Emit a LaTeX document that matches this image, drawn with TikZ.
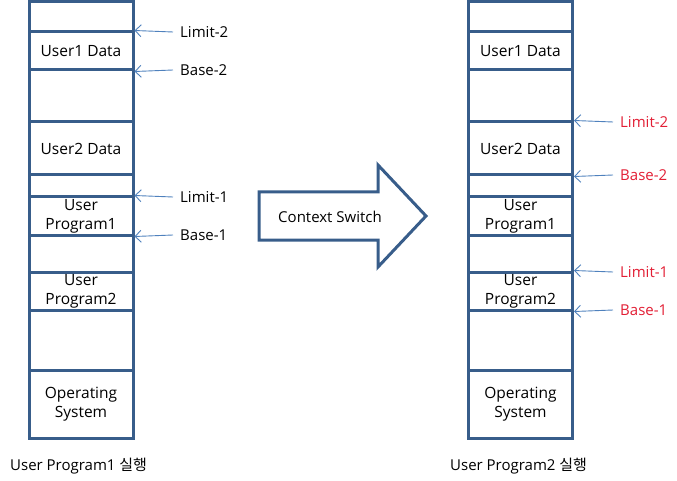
\documentclass[tikz,border=0pt]{standalone}
\usepackage{fontspec}
\setmainfont{Open Sans}
\newfontfamily\kor{Noto Sans CJK KR}
\usepackage{tikz}
\usetikzlibrary{arrows.meta}
\definecolor{boxblue}{RGB}{56,93,138}
\definecolor{ptrblue}{RGB}{79,129,189}
\definecolor{labred}{RGB}{226,30,52}
\begin{document}
\begin{tikzpicture}
	[x=1pt, y=-1pt,
	 seg/.style={draw=boxblue, line width=3pt, rectangle, inner sep=0pt,
	   minimum width=104pt, align=center, font=\fontsize{15.5}{19}\selectfont},
	 ptr/.style={draw=ptrblue, line width=0.9pt, -{Straight Barb[length=6pt,width=12pt]}},
	 reg/.style={anchor=west, inner sep=0pt, font=\fontsize{15}{17}\selectfont},
	 caption/.style={anchor=west, inner sep=0pt, font=\fontsize{15}{17}\selectfont}]
	\useasboundingbox (0,0) rectangle (677,481);
	% running user program 1
	\node[seg, minimum height=30pt] (a0) at (81, 17) {};
	\node[seg, minimum height=38pt] (a1) at (81, 51) {User1 Data};
	\node[seg, minimum height=52pt] (a2) at (81, 96) {};
	\node[seg, minimum height=53pt] (a3) at (81, 148.5) {User2 Data};
	\node[seg, minimum height=22pt] (a4) at (81, 186) {};
	\node[seg, minimum height=38pt] (a5) at (81, 216) {User\\Program1};
	\node[seg, minimum height=37pt] (a6) at (81, 253.5) {};
	\node[seg, minimum height=38pt] (a7) at (81, 291) {User\\Program2};
	\node[seg, minimum height=60pt] (a8) at (81, 340) {};
	\node[seg, minimum height=68pt] (a9) at (81, 404) {Operating\\System};
	\node[reg] (al2) at (180, 32) {Limit-2};
	\node[reg] (ab2) at (180, 70) {Base-2};
	\node[reg] (al1) at (180, 197) {Limit-1};
	\node[reg] (ab1) at (180, 235) {Base-1};
	\draw[ptr] (al2.west) ++(-7,0) -- (a1.north east);
	\draw[ptr] (ab2.west) ++(-7,0) -- (a1.south east);
	\draw[ptr] (al1.west) ++(-7,0) -- (a5.north east);
	\draw[ptr] (ab1.west) ++(-7,0) -- (a5.south east);
	\node[caption] (ca) at (10, 466) {User Program1 {\kor 실행}};
	% context switch
	\draw[boxblue, line width=3pt, line join=miter]
	  (259,192) -- (378,192) -- (378,165) -- (426,216) -- (378,267)
	  -- (378,240) -- (259,240) -- cycle;
	\node[font=\fontsize{15}{17}\selectfont] (cs) at (330, 217) {Context Switch};
	% running user program 2
	\node[seg, minimum height=30pt] (b0) at (520.5, 17) {};
	\node[seg, minimum height=38pt] (b1) at (520.5, 51) {User1 Data};
	\node[seg, minimum height=52pt] (b2) at (520.5, 96) {};
	\node[seg, minimum height=53pt] (b3) at (520.5, 148.5) {User2 Data};
	\node[seg, minimum height=22pt] (b4) at (520.5, 186) {};
	\node[seg, minimum height=38pt] (b5) at (520.5, 216) {User\\Program1};
	\node[seg, minimum height=37pt] (b6) at (520.5, 253.5) {};
	\node[seg, minimum height=38pt] (b7) at (520.5, 291) {User\\Program2};
	\node[seg, minimum height=60pt] (b8) at (520.5, 340) {};
	\node[seg, minimum height=68pt] (b9) at (520.5, 404) {Operating\\System};
	\node[reg, labred] (bl2) at (620, 122) {Limit-2};
	\node[reg, labred] (bb2) at (620, 175) {Base-2};
	\node[reg, labred] (bl1) at (620, 272) {Limit-1};
	\node[reg, labred] (bb1) at (620, 310) {Base-1};
	\draw[ptr] (bl2.west) ++(-7,0) -- (b3.north east);
	\draw[ptr] (bb2.west) ++(-7,0) -- (b3.south east);
	\draw[ptr] (bl1.west) ++(-7,0) -- (b7.north east);
	\draw[ptr] (bb1.west) ++(-7,0) -- (b7.south east);
	\node[caption] (cb) at (450, 466) {User Program2 {\kor 실행}};
\end{tikzpicture}
\end{document}
